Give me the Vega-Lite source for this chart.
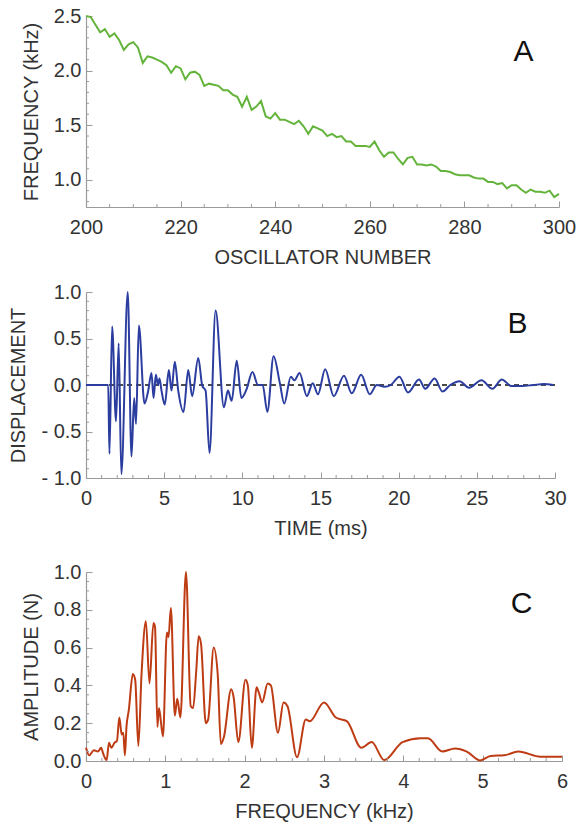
{
  "$schema": "https://vega.github.io/schema/vega-lite/v6.json",
  "padding": {"left": 8, "top": 6, "right": 5, "bottom": 5},
  "spacing": 15,
  "config": {
    "view": {"stroke": null},
    "font": "Liberation Sans",
    "axis": {
      "domainColor": "#9a9a9a", "tickColor": "#9a9a9a", "labelColor": "#333333", "titleColor": "#333333",
      "labelFont": "Liberation Sans", "titleFont": "Liberation Sans", "labelFontSize": 20, "titleFontSize": 20,
      "titleFontWeight": "normal", "grid": false, "domainWidth": 1.2, "tickWidth": 1, "labelOverlap": false, "labelFlush": false, "labelBound": false, "tickSize": -6, "tickCount": 100
    },
    "axisX": {"labelPadding": 16, "titlePadding": 10},
    "axisY": {"labelPadding": 11, "titlePadding": 12},
    "rule": {"color": "#9a9a9a", "strokeWidth": 1}
  },
  "vconcat": [
    {
      "width": 473, "height": 191,
      "layer": [
        {
          "data": {"values": [
            {"n":200,"f":2.50},{"n":201,"f":2.49},{"n":202,"f":2.42},{"n":203,"f":2.35},{"n":204,"f":2.38},{"n":205,"f":2.31},{"n":206,"f":2.34},{"n":207,"f":2.28},{"n":208,"f":2.19},{"n":209,"f":2.24},
            {"n":210,"f":2.26},{"n":211,"f":2.21},{"n":212,"f":2.07},{"n":213,"f":2.13},{"n":214,"f":2.12},{"n":215,"f":2.10},{"n":216,"f":2.08},{"n":217,"f":2.05},{"n":218,"f":1.98},{"n":219,"f":2.04},
            {"n":220,"f":2.02},{"n":221,"f":1.92},{"n":222,"f":1.98},{"n":223,"f":1.99},{"n":224,"f":1.96},{"n":225,"f":1.86},{"n":226,"f":1.88},{"n":227,"f":1.87},{"n":228,"f":1.86},{"n":229,"f":1.82},
            {"n":230,"f":1.82},{"n":231,"f":1.78},{"n":232,"f":1.76},{"n":233,"f":1.67},{"n":234,"f":1.76},{"n":235,"f":1.64},{"n":236,"f":1.67},{"n":237,"f":1.72},{"n":238,"f":1.58},{"n":239,"f":1.56},
            {"n":240,"f":1.61},{"n":241,"f":1.55},{"n":242,"f":1.55},{"n":243,"f":1.53},{"n":244,"f":1.51},{"n":245,"f":1.54},{"n":246,"f":1.49},{"n":247,"f":1.42},{"n":248,"f":1.49},{"n":249,"f":1.47},
            {"n":250,"f":1.45},{"n":251,"f":1.40},{"n":252,"f":1.42},{"n":253,"f":1.39},{"n":254,"f":1.40},{"n":255,"f":1.35},{"n":256,"f":1.35},{"n":257,"f":1.31},{"n":258,"f":1.31},{"n":259,"f":1.31},
            {"n":260,"f":1.30},{"n":261,"f":1.35},{"n":262,"f":1.27},{"n":263,"f":1.21},{"n":264,"f":1.25},{"n":265,"f":1.25},{"n":266,"f":1.19},{"n":267,"f":1.14},{"n":268,"f":1.20},{"n":269,"f":1.21},
            {"n":270,"f":1.14},{"n":271,"f":1.14},{"n":272,"f":1.13},{"n":273,"f":1.14},{"n":274,"f":1.12},{"n":275,"f":1.08},{"n":276,"f":1.08},{"n":277,"f":1.07},{"n":278,"f":1.05},{"n":279,"f":1.04},
            {"n":280,"f":1.04},{"n":281,"f":1.04},{"n":282,"f":1.02},{"n":283,"f":1.01},{"n":284,"f":1.01},{"n":285,"f":0.98},{"n":286,"f":0.98},{"n":287,"f":0.96},{"n":288,"f":0.97},{"n":289,"f":0.92},
            {"n":290,"f":0.95},{"n":291,"f":0.95},{"n":292,"f":0.91},{"n":293,"f":0.88},{"n":294,"f":0.91},{"n":295,"f":0.89},{"n":296,"f":0.89},{"n":297,"f":0.88},{"n":298,"f":0.90},{"n":299,"f":0.84},
            {"n":300,"f":0.87}
          ]},
          "mark": {"type": "line", "color": "#64b43c", "strokeWidth": 2},
          "encoding": {
            "x": {"field": "n", "type": "quantitative", "title": "OSCILLATOR NUMBER", "scale": {"domain": [200, 300], "nice": false, "zero": false},
              "axis": {"title": "OSCILLATOR NUMBER", "values": [200,220,240,260,280,300], "format": "d", "tickCount": 100}},
            "y": {"field": "f", "type": "quantitative", "title": "FREQUENCY (kHz)", "scale": {"domain": [0.75, 2.5], "nice": false, "zero": false},
              "axis": {"title": "FREQUENCY (kHz)", "values": [1.0,1.5,2.0,2.5], "format": ".1f", "tickCount": 100}}
          }
        },
        {
          "data": {"values": [{"v":205},{"v":210},{"v":215},{"v":225},{"v":230},{"v":235},{"v":245},{"v":250},{"v":255},{"v":265},{"v":270},{"v":275},{"v":285},{"v":290},{"v":295}]},
          "mark": {"type": "rule"},
          "encoding": {"x": {"field": "v", "type": "quantitative", "title": "OSCILLATOR NUMBER"}, "y": {"datum": 0.75}, "y2": {"datum": 0.7775}}
        },
        {
          "data": {"values": [{"v":0.8},{"v":0.9},{"v":1.1},{"v":1.2},{"v":1.3},{"v":1.4},{"v":1.6},{"v":1.7},{"v":1.8},{"v":1.9},{"v":2.1},{"v":2.2},{"v":2.3},{"v":2.4}]},
          "mark": {"type": "rule"},
          "encoding": {"y": {"field": "v", "type": "quantitative", "title": "FREQUENCY (kHz)"}, "x": {"datum": 200}, "x2": {"datum": 200.63}}
        },
        {
          "data": {"values": [{"label": "A"}]},
          "mark": {"type": "text", "fontSize": 30, "color": "#111111", "font": "Liberation Sans"},
          "encoding": {"x": {"datum": 292.5}, "y": {"datum": 2.17}, "text": {"field": "label"}}
        }
      ]
    },
    {
      "width": 469, "height": 186,
      "layer": [
        {
          "data": {"values": [{"label": "zero"}]},
          "mark": {"type": "rule", "strokeDash": [5, 4], "color": "#111111", "strokeWidth": 1.3},
          "encoding": {"y": {"datum": 0}}
        },
        {
          "data": {"values": [
            {"t":0,"v":0},{"t":1.42,"v":0},{"t":1.50,"v":-0.74},{"t":1.67,"v":0.63},{"t":1.92,"v":-0.39},{"t":2.09,"v":0.45},{"t":2.26,"v":-0.96},{"t":2.67,"v":1.0},{"t":2.91,"v":-0.77},{"t":3.08,"v":-0.14},
            {"t":3.2,"v":-0.42},{"t":3.38,"v":0.64},{"t":3.74,"v":-0.20},{"t":3.97,"v":-0.07},{"t":4.19,"v":0.13},{"t":4.32,"v":-0.14},{"t":4.47,"v":0.11},{"t":4.6,"v":0.0},{"t":4.7,"v":0.07},{"t":4.83,"v":-0.06},
            {"t":5.04,"v":-0.21},{"t":5.3,"v":0.16},{"t":5.47,"v":-0.06},{"t":5.68,"v":0.25},{"t":5.9,"v":-0.06},{"t":6.24,"v":-0.29},{"t":6.54,"v":0.16},{"t":6.79,"v":-0.12},{"t":7.18,"v":0.29},{"t":7.44,"v":-0.01},
            {"t":7.65,"v":-0.06},{"t":7.9,"v":-0.73},{"t":8.29,"v":0.80},{"t":8.82,"v":-0.24},{"t":9.08,"v":-0.06},{"t":9.32,"v":-0.17},{"t":9.64,"v":0.26},{"t":9.94,"v":-0.14},{"t":10.26,"v":-0.05},{"t":10.65,"v":0.14},
            {"t":11.0,"v":0.0},{"t":11.3,"v":0.0},{"t":11.6,"v":-0.29},{"t":12.0,"v":0.31},{"t":12.4,"v":0.02},{"t":12.68,"v":-0.20},{"t":13.1,"v":0.09},{"t":13.33,"v":0.05},{"t":13.66,"v":0.13},{"t":14.13,"v":-0.12},
            {"t":14.5,"v":0.02},{"t":14.84,"v":-0.10},{"t":15.3,"v":0.17},{"t":15.85,"v":-0.12},{"t":16.5,"v":0.10},{"t":17.0,"v":-0.09},{"t":17.6,"v":0.11},{"t":18.15,"v":-0.10},{"t":18.6,"v":0.0},{"t":19.1,"v":-0.02},
            {"t":19.5,"v":0.0},{"t":20.05,"v":0.09},{"t":20.6,"v":-0.08},{"t":21.3,"v":0.06},{"t":21.7,"v":-0.04},{"t":22.3,"v":0.07},{"t":22.8,"v":-0.07},{"t":23.3,"v":0.0},{"t":23.9,"v":0.04},{"t":24.5,"v":-0.03},
            {"t":25.3,"v":0.05},{"t":26.0,"v":-0.04},{"t":26.6,"v":0.06},{"t":27.2,"v":-0.01},{"t":27.9,"v":-0.01},{"t":28.6,"v":0.0},{"t":29.3,"v":0.01},{"t":29.9,"v":0.0}
          ]},
          "mark": {"type": "line", "color": "#2b3d9f", "strokeWidth": 2, "interpolate": "monotone"},
          "encoding": {
            "x": {"field": "t", "type": "quantitative", "title": "TIME (ms)", "scale": {"domain": [0, 30], "nice": false, "zero": false},
              "axis": {"title": "TIME (ms)", "values": [0,5,10,15,20,25,30], "format": "d", "tickCount": 100}},
            "y": {"field": "v", "type": "quantitative", "title": "DISPLACEMENT", "scale": {"domain": [-1, 1], "nice": false, "zero": false},
              "axis": {"title": "DISPLACEMENT", "values": [-1.0,-0.5,0,0.5,1.0], "tickCount": 100,
                "labelExpr": "datum.value < 0 ? '- ' + format(abs(datum.value), '.1f') : format(datum.value, '.1f')"}}
          }
        },
        {
          "data": {"values": [{"v":1},{"v":2},{"v":3},{"v":4},{"v":6},{"v":7},{"v":8},{"v":9},{"v":11},{"v":12},{"v":13},{"v":14},{"v":16},{"v":17},{"v":18},{"v":19},{"v":21},{"v":22},{"v":23},{"v":24},{"v":26},{"v":27},{"v":28},{"v":29}]},
          "mark": {"type": "rule"},
          "encoding": {"x": {"field": "v", "type": "quantitative", "title": "TIME (ms)"}, "y": {"datum": -1}, "y2": {"datum": -0.968}}
        },
        {
          "data": {"values": [{"v":-0.9},{"v":-0.8},{"v":-0.7},{"v":-0.6},{"v":-0.4},{"v":-0.3},{"v":-0.2},{"v":-0.1},{"v":0.1},{"v":0.2},{"v":0.3},{"v":0.4},{"v":0.6},{"v":0.7},{"v":0.8},{"v":0.9}]},
          "mark": {"type": "rule"},
          "encoding": {"y": {"field": "v", "type": "quantitative", "title": "DISPLACEMENT"}, "x": {"datum": 0}, "x2": {"datum": 0.19}}
        },
        {
          "data": {"values": [{"label": "B"}]},
          "mark": {"type": "text", "fontSize": 30, "color": "#111111", "font": "Liberation Sans"},
          "encoding": {"x": {"datum": 27.6}, "y": {"datum": 0.66}, "text": {"field": "label"}}
        }
      ]
    },
    {
      "width": 476, "height": 189,
      "layer": [
        {
          "data": {"values": [{"label": "top"}]},
          "mark": {"type": "rule", "opacity": 0},
          "encoding": {"y": {"datum": 1.1}}
        },
        {
          "data": {"values": [
            {"k":0.0,"a":0.07},{"k":0.04,"a":0.03},{"k":0.10,"a":0.057},{"k":0.15,"a":0.05},{"k":0.19,"a":0.07},{"k":0.22,"a":0.035},{"k":0.26,"a":0.005},{"k":0.29,"a":0.097},{"k":0.32,"a":0.07},{"k":0.36,"a":0.097},
            {"k":0.39,"a":0.106},{"k":0.42,"a":0.23},{"k":0.45,"a":0.14},{"k":0.47,"a":0.15},{"k":0.49,"a":0.03},{"k":0.51,"a":0.18},{"k":0.54,"a":0.27},{"k":0.59,"a":0.46},{"k":0.62,"a":0.43},{"k":0.66,"a":0.08},
            {"k":0.70,"a":0.46},{"k":0.755,"a":0.74},{"k":0.80,"a":0.41},{"k":0.85,"a":0.73},{"k":0.87,"a":0.71},{"k":0.90,"a":0.18},{"k":0.92,"a":0.28},{"k":0.97,"a":0.13},{"k":1.02,"a":0.68},{"k":1.04,"a":0.655},
            {"k":1.07,"a":0.81},{"k":1.12,"a":0.24},{"k":1.15,"a":0.33},{"k":1.19,"a":0.23},{"k":1.26,"a":1.0},{"k":1.32,"a":0.29},{"k":1.35,"a":0.28},{"k":1.39,"a":0.48},{"k":1.42,"a":0.66},{"k":1.45,"a":0.62},
            {"k":1.51,"a":0.20},{"k":1.54,"a":0.22},{"k":1.61,"a":0.60},{"k":1.66,"a":0.46},{"k":1.70,"a":0.09},{"k":1.74,"a":0.13},{"k":1.83,"a":0.38},{"k":1.86,"a":0.34},{"k":1.92,"a":0.10},{"k":2.01,"a":0.43},
            {"k":2.04,"a":0.40},{"k":2.09,"a":0.07},{"k":2.15,"a":0.39},{"k":2.18,"a":0.36},{"k":2.22,"a":0.31},{"k":2.29,"a":0.41},{"k":2.33,"a":0.40},{"k":2.42,"a":0.15},{"k":2.49,"a":0.31},{"k":2.54,"a":0.29},
            {"k":2.66,"a":0.02},{"k":2.77,"a":0.22},{"k":2.82,"a":0.21},{"k":3.0,"a":0.31},{"k":3.15,"a":0.23},{"k":3.29,"a":0.21},{"k":3.47,"a":0.07},{"k":3.6,"a":0.10},{"k":3.76,"a":0.005},{"k":3.99,"a":0.10},
            {"k":4.22,"a":0.12},{"k":4.31,"a":0.12},{"k":4.49,"a":0.05},{"k":4.65,"a":0.066},{"k":4.80,"a":0.05},{"k":4.97,"a":0.003},{"k":5.10,"a":0.027},{"k":5.27,"a":0.03},{"k":5.45,"a":0.05},{"k":5.73,"a":0.023},
            {"k":6.0,"a":0.023}
          ]},
          "mark": {"type": "line", "color": "#be3c14", "strokeWidth": 2, "interpolate": "monotone"},
          "encoding": {
            "x": {"field": "k", "type": "quantitative", "title": "FREQUENCY (kHz)", "scale": {"domain": [0, 6], "nice": false, "zero": false},
              "axis": {"title": "FREQUENCY (kHz)", "values": [0,1,2,3,4,5,6], "format": "d", "tickCount": 100}},
            "y": {"field": "a", "type": "quantitative", "title": "AMPLITUDE (N)", "scale": {"domain": [0, 1], "nice": false, "zero": false},
              "axis": {"title": "AMPLITUDE (N)", "values": [0,0.2,0.4,0.6,0.8,1.0], "format": ".1f", "tickCount": 100}}
          }
        },
        {
          "data": {"values": [{"v":0.2},{"v":0.4},{"v":0.6},{"v":0.8},{"v":1.2},{"v":1.4},{"v":1.6},{"v":1.8},{"v":2.2},{"v":2.4},{"v":2.6},{"v":2.8},{"v":3.2},{"v":3.4},{"v":3.6},{"v":3.8},{"v":4.2},{"v":4.4},{"v":4.6},{"v":4.8},{"v":5.2},{"v":5.4},{"v":5.6},{"v":5.8}]},
          "mark": {"type": "rule"},
          "encoding": {"x": {"field": "v", "type": "quantitative", "title": "FREQUENCY (kHz)"}, "y": {"datum": 0}, "y2": {"datum": 0.016}}
        },
        {
          "data": {"values": [{"v":0.05},{"v":0.1},{"v":0.15},{"v":0.25},{"v":0.3},{"v":0.35},{"v":0.45},{"v":0.5},{"v":0.55},{"v":0.65},{"v":0.7},{"v":0.75},{"v":0.85},{"v":0.9},{"v":0.95}]},
          "mark": {"type": "rule"},
          "encoding": {"y": {"field": "v", "type": "quantitative", "title": "AMPLITUDE (N)"}, "x": {"datum": 0}, "x2": {"datum": 0.038}}
        },
        {
          "data": {"values": [{"label": "C"}]},
          "mark": {"type": "text", "fontSize": 30, "color": "#111111", "font": "Liberation Sans"},
          "encoding": {"x": {"datum": 5.49}, "y": {"datum": 0.833}, "text": {"field": "label"}}
        }
      ]
    }
  ]
}
